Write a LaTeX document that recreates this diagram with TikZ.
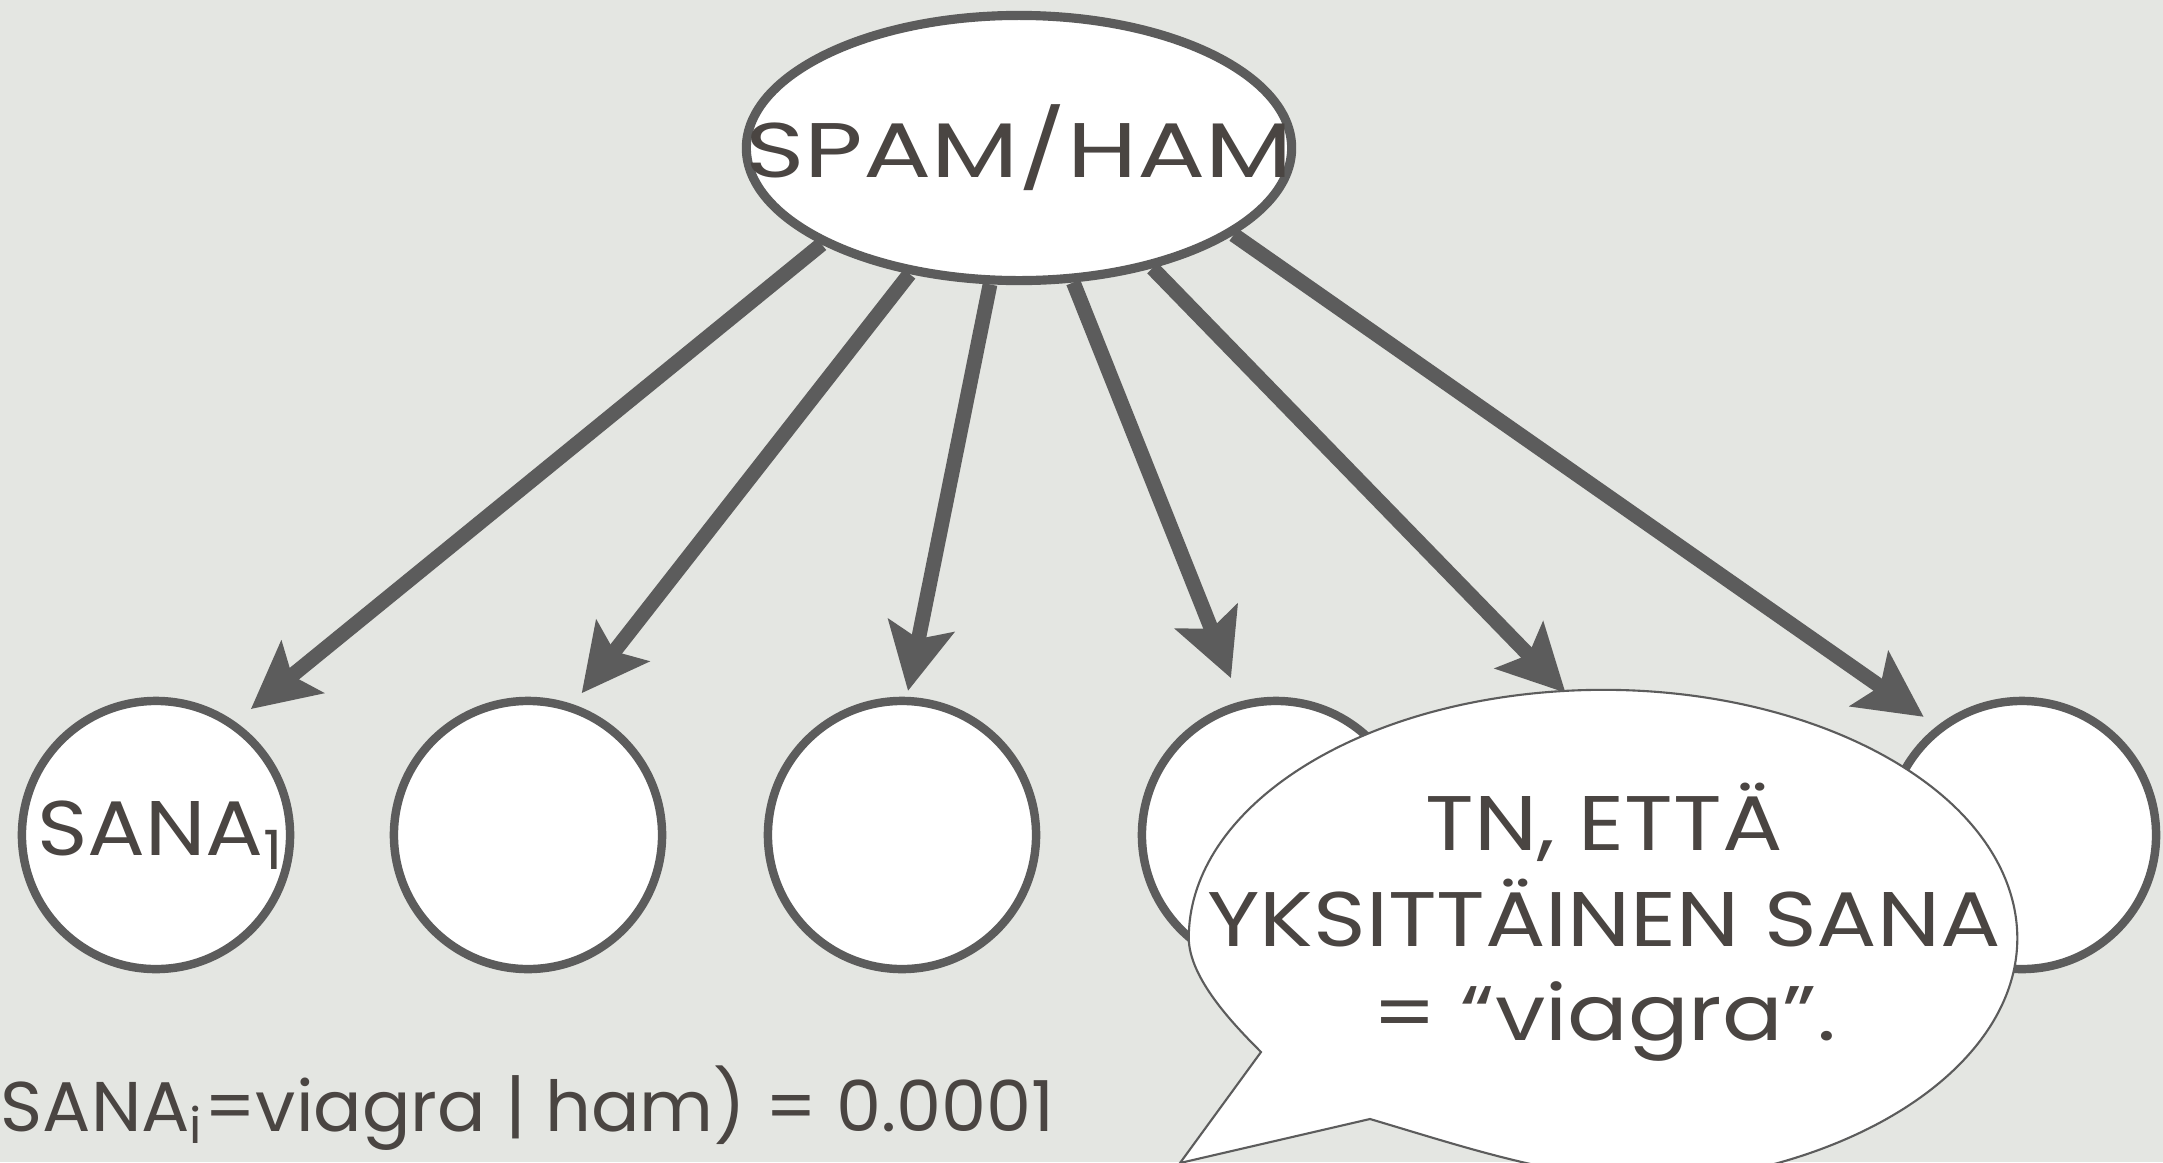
\documentclass[tikz,border=0pt]{standalone}
\usepackage{fontspec}
\setmainfont{Poppins}
\usetikzlibrary{arrows.meta,shapes.geometric,calc}
\definecolor{bg}{HTML}{E4E6E2}
\definecolor{ln}{HTML}{5C5C5C}
\definecolor{tx}{HTML}{4A4542}
\begin{document}
\begin{tikzpicture}[x=0.01cm,y=0.01cm,
  font=\fontsize{22}{27}\selectfont,
  word/.style={circle, draw=ln, line width=2.4pt, fill=white, minimum size=2.68cm, inner sep=0pt, text=tx},
  topnode/.style={ellipse, draw=ln, line width=2.6pt, fill=white, minimum width=5.45cm, minimum height=2.65cm, inner sep=0pt, text=tx},
  arr/.style={draw=ln, line width=4.2pt, -{Stealth[length=0.66cm,width=0.66cm,inset=0.13cm]}},
  bubble/.style={draw=ln, line width=0.6pt, fill=white},
  hw/.style={text=tx, inner sep=0pt}
]
\useasboundingbox (0,0) rectangle (2163,1162);
\clip (0,0) rectangle (2163,1162);
\fill[bg] (0,0) rectangle (2163,1162);

\node[topnode] (top) at (1019,1014) {\makebox[0pt]{\scalebox{1.31}[1]{SPAM/HAM}}};

\node[word] (c1) at (156,327) {\makebox[0pt]{\hspace{0.1cm}\scalebox{1.11}[1]{SANA\textsubscript{1}}}};
\node[word] (c2) at (528,327) {};
\node[word] (c3) at (902,327) {};
\node[word] (c4) at (1276,327) {};
\node[word] (c5) at (1650,327) {};
\node[word] (c6) at (2022,327) {};

\draw[arr, shorten >=0.2cm] (top.206) -- (c1.55);
\draw[arr, shorten >=0.14cm] (top.229) -- (c2.71);
\draw[arr, shorten >=0.06cm] (top.258) -- (c3.88);
\draw[arr, shorten >=0.25cm] (top.292) -- (c4.105);
\draw[arr, shorten >=0.28cm] (top.318) -- (c5.118);
\draw[arr, shorten >=0.16cm] (top.338) -- (c6.128);

% speech bubble
\coordinate (bc) at (1603,224);
\coordinate (tip) at (1180,-1);
\coordinate (tailR) at (1370,43);
\coordinate (tailL) at (1261,110);
\coordinate (bubB) at ($(bc)+(280:4.14cm and 2.48cm)$);
\filldraw[bubble] (tip) -- (tailR) .. controls (1468,14) and (1560,-18) .. (bubB)
  arc[start angle=280, end angle=540, x radius=4.14cm, y radius=2.48cm]
  .. controls (1189,184) and (1233,138) .. (tailL) -- cycle;
\node[hw] (btxt) at (1604,236) {\scalebox{1.16}[1]{\begin{tabular}{@{}c@{}}TN, ETTÄ\\YKSITTÄINEN SANA\\= “viagra”.\end{tabular}}};

\node[hw, anchor=west, font=\fontsize{20}{24}\selectfont] (form) at (0,54) {\scalebox{1.02}[1]{SANA\textsubscript{i}=viagra | ham) = 0.0001}};
\end{tikzpicture}
\end{document}
